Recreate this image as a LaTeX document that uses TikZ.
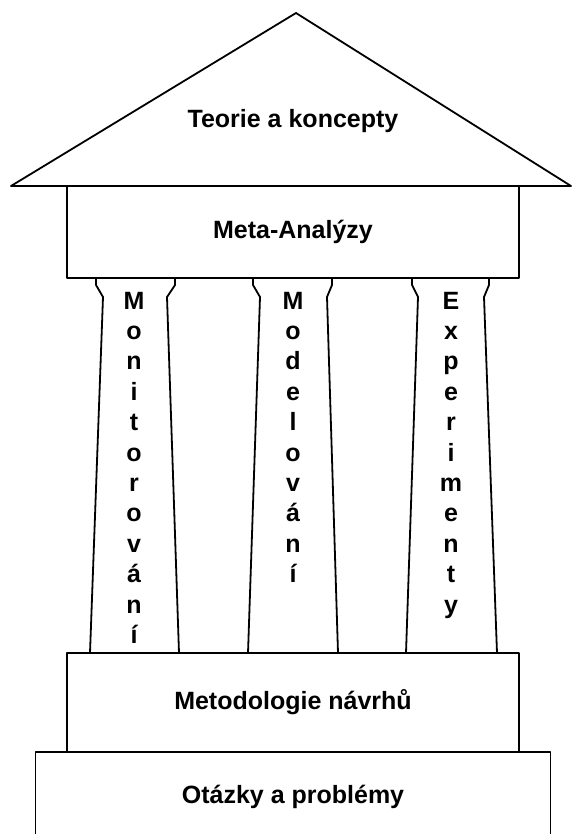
\documentclass[tikz,border=0pt]{standalone}
\usepackage{fontspec}
\setmainfont{Liberation Sans}
\usetikzlibrary{positioning}
\tikzset{
    temple/.style={x=1pt, y=-1pt, line width=1.8pt, line join=round,
        font=\bfseries\fontsize{25}{30.4}\selectfont},
    slab/.style={draw, fill=white, rectangle, inner sep=0pt, outer sep=0pt,
        minimum width=452pt},
    letters/.style={align=center, inner sep=0pt, anchor=north},
}

\begin{document}
\begin{tikzpicture}[temple]
    \useasboundingbox (0,0) rectangle (572,834);

    % entablature and floors
    \node[slab, minimum height=92pt]  (meta)   at (293,232)   {Meta-Analýzy};
    \node[slab, minimum height=99pt]  (metod)  at (293,702.5) {Metodologie návrhů};
    \node[slab, minimum width=515pt, minimum height=90pt, below=0pt of metod]
                                      (otazky) {Otázky a problémy};

    % roof
    \draw (11,186) -- (296,13) -- (571,186) -- cycle;
    \node (teorie) at (293,121) {Teorie a koncepty};

    % pillars
    \draw (96,278) -- (96,285) -- (103,297) -- (90,653)
          (179,653) -- (167,297) -- (175,285) -- (175,278);
    \draw (253,278) -- (253,285) -- (260,297) -- (248,653)
          (338,653) -- (327,297) -- (332,285) -- (332,278);
    \draw (412,278) -- (412,285) -- (418,297) -- (406,653)
          (497,653) -- (484,297) -- (489,285) -- (489,278);

    \node[letters] (monitor) at (134,291) {M\\o\\n\\i\\t\\o\\r\\o\\v\\á\\n\\í};
    \node[letters] (model)   at (293,291) {M\\o\\d\\e\\l\\o\\v\\á\\n\\í};
    \node[letters] (exper)   at (451,291) {E\\x\\p\\e\\r\\i\\m\\e\\n\\t\\y};
\end{tikzpicture}
\end{document}
